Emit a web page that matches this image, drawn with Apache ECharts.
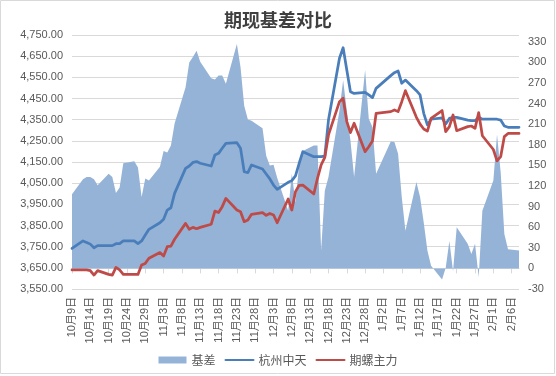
<!DOCTYPE html>
<html>
<head>
<meta charset="utf-8">
<script src="https://cdn.jsdelivr.net/npm/echarts@6/dist/echarts.min.js"></script>
<style>
  html, body { margin: 0; padding: 0; background: #fff; }
  #chart { width: 556px; height: 376px; }
</style>
</head>
<body>
<div id="chart"></div>
<script>
// 交易日
var dates = [
  '2020-10-09',
  '2020-10-12','2020-10-13','2020-10-14','2020-10-15','2020-10-16',
  '2020-10-19','2020-10-20','2020-10-21','2020-10-22','2020-10-23',
  '2020-10-26','2020-10-27','2020-10-28','2020-10-29','2020-10-30',
  '2020-11-02','2020-11-03','2020-11-04','2020-11-05','2020-11-06',
  '2020-11-09','2020-11-10','2020-11-11','2020-11-12','2020-11-13',
  '2020-11-16','2020-11-17','2020-11-18','2020-11-19','2020-11-20',
  '2020-11-23','2020-11-24','2020-11-25','2020-11-26','2020-11-27',
  '2020-11-30','2020-12-01','2020-12-02','2020-12-03','2020-12-04',
  '2020-12-07','2020-12-08','2020-12-09','2020-12-10','2020-12-11',
  '2020-12-14','2020-12-15','2020-12-16','2020-12-17','2020-12-18',
  '2020-12-21','2020-12-22','2020-12-23','2020-12-24','2020-12-25',
  '2020-12-28','2020-12-29','2020-12-30','2020-12-31',
  '2021-01-04','2021-01-05','2021-01-06','2021-01-07','2021-01-08',
  '2021-01-11','2021-01-12','2021-01-13','2021-01-14','2021-01-15',
  '2021-01-18','2021-01-19','2021-01-20','2021-01-21','2021-01-22',
  '2021-01-25','2021-01-26','2021-01-27','2021-01-28','2021-01-29',
  '2021-02-01','2021-02-02','2021-02-03','2021-02-04','2021-02-05',
  '2021-02-08'
];
// 基差（右轴）
var basis = [
  108,
  130,133,133,130,121,
  138,133,110,118,153,
  156,147,104,131,128,
  148,171,169,179,211,
  264,300,308,317,301,
  277,275,281,281,269,
  327,293,237,217,215,
  204,164,150,151,132,
  84,138,96,152,171,
  179,179,26,113,133,
  230,274,230,186,133,
  289,218,206,138,
  185,184,167,104,55,
  126,104,67,26,4,
  -16,1,40,-4,60,
  36,21,36,-13,84,
  128,195,140,50,28,
  26
];
// 杭州中天（现货）
var spot = [
  3742,
  3777,3770,3762,3745,3755,
  3755,3755,3764,3764,3777,
  3777,3764,3777,3805,3832,
  3863,3879,3923,3934,4002,
  4120,4131,4148,4152,4144,
  4131,4183,4191,4215,4238,
  4241,4215,4104,4100,4136,
  4117,4093,4070,4041,4021,
  4054,4062,4084,4144,4199,
  4175,4175,4175,4178,4348,
  4640,4690,4585,4482,4474,
  4479,4467,4454,4498,
  4558,4572,4580,4522,4537,
  4487,4467,4380,4325,4352,
  4358,4330,4356,4361,4361,
  4348,4345,4345,4361,4352,
  4352,4352,4348,4320,4314,
  4314
];
// 期螺主力
var futures = [
  3640,
  3640,3640,3637,3616,3637,
  3619,3616,3652,3640,3619,
  3619,3619,3663,3671,3695,
  3722,3706,3750,3753,3785,
  3860,3832,3841,3835,3841,
  3856,3918,3911,3939,3978,
  3923,3915,3868,3876,3903,
  3911,3898,3907,3900,3863,
  3975,3923,4010,4040,4041,
  3999,4073,4136,4172,4278,
  4435,4451,4341,4289,4333,
  4199,4222,4249,4380,
  4388,4396,4388,4435,4487,
  4361,4329,4306,4296,4356,
  4393,4293,4317,4372,4298,
  4317,4320,4309,4383,4274,
  4209,4155,4175,4270,4285,
  4285
];
// 横轴刻度
var tickDates = [
  '2020-10-09','2020-10-14','2020-10-19','2020-10-24','2020-10-29',
  '2020-11-03','2020-11-08','2020-11-13','2020-11-18','2020-11-23','2020-11-28',
  '2020-12-03','2020-12-08','2020-12-13','2020-12-18','2020-12-23','2020-12-28',
  '2021-01-02','2021-01-07','2021-01-12','2021-01-17','2021-01-22','2021-01-27',
  '2021-02-01','2021-02-06'
];

var DAY = 86400000;
var start = Date.parse(dates[0]);
function dayOffset(s) { return Math.round((Date.parse(s) - start) / DAY); }
function pairs(vals) {
  return vals.map(function (v, i) { return [dayOffset(dates[i]), v]; });
}
var ticks = tickDates.map(dayOffset);

var labelColor = '#595959';
var fontFamily = 'Liberation Sans, Noto Sans CJK SC, sans-serif';

var chart = echarts.init(document.getElementById('chart'));
chart.setOption({
  animation: false,
  textStyle: { fontFamily: fontFamily },
  graphic: [{
    type: 'rect',
    shape: { x: 0.5, y: 0.5, width: 554, height: 373 },
    style: { fill: 'none', stroke: '#D9D9D9', lineWidth: 1 },
    silent: true
  }],
  title: {
    text: '期现基差对比',
    left: 'center',
    top: 6,
    textStyle: {
      fontSize: 18,
      fontWeight: 'bold',
      color: '#404040',
      fontFamily: 'Noto Sans CJK SC'
    }
  },
  legend: {
    left: 'center',
    top: 349,
    itemWidth: 28,
    itemHeight: 7,
    itemGap: 9,
    textStyle: { fontSize: 12, color: labelColor, fontFamily: 'Noto Sans CJK SC' },
    data: [
      { name: '基差', icon: 'rect' },
      { name: '杭州中天', itemStyle: { opacity: 0 } },
      { name: '期螺主力', itemStyle: { opacity: 0 } }
    ]
  },
  grid: { left: 72, right: 37, top: 35, bottom: 87 },
  xAxis: {
    type: 'value',
    min: 0,
    max: dayOffset(dates[dates.length - 1]),
    splitLine: { show: false },
    axisLine: { show: true, lineStyle: { color: '#D9D9D9', width: 1 } },
    axisTick: {
      show: true, length: 5, inside: false,
      customValues: ticks,
      lineStyle: { color: '#D9D9D9' }
    },
    axisLabel: {
      customValues: ticks,
      rotate: 90,
      margin: 8,
      fontSize: 11,
      color: labelColor,
      formatter: function (v) {
        var d = new Date(start + v * DAY);
        return (d.getUTCMonth() + 1) + '月' + d.getUTCDate() + '日';
      }
    }
  },
  yAxis: [{
    type: 'value',
    min: 3550,
    max: 4750,
    interval: 100,
    axisLine: { show: false },
    axisTick: { show: false },
    splitLine: { lineStyle: { color: '#D9D9D9', width: 1 } },
    axisLabel: {
      margin: 9,
      fontSize: 11,
      color: labelColor,
      formatter: function (v) {
        return v.toLocaleString('en-US', { minimumFractionDigits: 2, maximumFractionDigits: 2 });
      }
    }
  }, {
    type: 'value',
    min: -30,
    max: 340,
    interval: 30,
    axisLine: { show: false },
    axisTick: { show: false },
    splitLine: { show: false },
    axisLabel: { margin: 9, fontSize: 11, color: labelColor, showMaxLabel: false }
  }],
  series: [{
    name: '基差',
    type: 'line',
    yAxisIndex: 1,
    data: pairs(basis),
    symbol: 'none',
    color: '#95B3D7',
    lineStyle: { width: 0 },
    areaStyle: { color: '#95B3D7', opacity: 1 }
  }, {
    name: '杭州中天',
    type: 'line',
    data: pairs(spot),
    symbol: 'none',
    color: '#4A7EBB',
    lineStyle: { width: 2.75, cap: 'round', join: 'round' }
  }, {
    name: '期螺主力',
    type: 'line',
    data: pairs(futures),
    symbol: 'none',
    color: '#BE4B48',
    lineStyle: { width: 2.75, cap: 'round', join: 'round' }
  }]
});
</script>
</body>
</html>
